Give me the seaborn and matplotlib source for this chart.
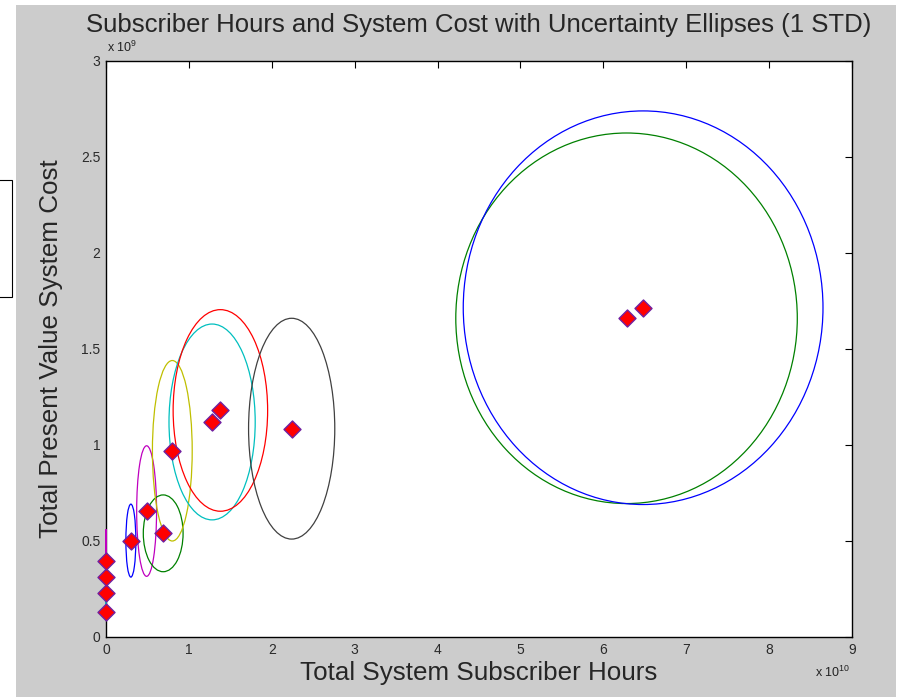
import matplotlib
matplotlib.use("Agg")
import matplotlib.pyplot as plt
from matplotlib.patches import Ellipse, Rectangle
import seaborn as sns
import pandas as pd

# ---- data (x in units of 1e10 hours, y in units of 1e9 cost) ----
hours = [0.0, 0.0, 0.0, 0.0, 0.30, 0.49, 0.69, 0.80, 1.28, 1.38, 2.24, 6.28, 6.48]
cost = [0.132, 0.228, 0.314, 0.396, 0.502, 0.656, 0.540, 0.970, 1.120, 1.180, 1.085, 1.660, 1.715]
hours_std = [0.0, 0.0, 0.0, 0.0, 0.06, 0.12, 0.24, 0.24, 0.52, 0.57, 0.52, 2.06, 2.17]
cost_std = [0.03, 0.10, 0.12, 0.165, 0.19, 0.34, 0.20, 0.47, 0.51, 0.525, 0.575, 0.965, 1.025]
ell_colors = ["#bfbf00", "#00bfbf", "#4040c0", "#bf00bf", "#0000ff", "#bf00bf", "#008000",
              "#bfbf00", "#00bfbf", "#ff0000", "#404040", "#008000", "#0000ff"]
xticks = [0, 1, 2, 3, 4, 5, 6, 7, 8, 9]
yticks = [0, 0.5, 1, 1.5, 2, 2.5, 3]
ytick_labels = ["0", "0.5", "1", "1.5", "2", "2.5", "3"]

df = pd.DataFrame({"hours": hours, "cost": cost})

sns.set_style("white")
plt.rcParams["font.family"] = ["Liberation Sans", "DejaVu Sans"]
plt.rcParams["mathtext.fontset"] = "custom"
plt.rcParams["mathtext.rm"] = "Liberation Sans"

W, H = 899, 697
fig = plt.figure(figsize=(W / 100, H / 100), dpi=100, facecolor="white")
# gray figure area (cropped screenshot look)
fig.patches.append(Rectangle((16 / W, 0), (896 - 16) / W, (H - 5) / H,
                             transform=fig.transFigure, facecolor="#cccccc",
                             edgecolor="none", zorder=-10))
# partial box at left edge
fig.patches.append(Rectangle((-2 / W, (H - 297) / H), 14 / W, 117 / H,
                             transform=fig.transFigure, facecolor="white",
                             edgecolor="black", linewidth=0.8, zorder=-5))

ax = fig.add_axes([106 / W, (H - 637) / H, (852 - 106) / W, (637 - 61) / H])
ax.set_facecolor("white")

for x, y, sx, sy, c in zip(hours, cost, hours_std, cost_std, ell_colors):
    ax.add_patch(Ellipse((x, y), 2 * sx, 2 * sy, fill=False, edgecolor=c,
                         linewidth=0.9, zorder=4, clip_on=False))

sns.scatterplot(data=df, x="hours", y="cost", marker="D", s=75, color="#ff0000",
                edgecolor="#7020a0", linewidth=1.0, ax=ax, zorder=5, legend=False,
                clip_on=False)

ax.set_xlim(0, 9)
ax.set_ylim(0, 3)
ax.set_xticks(xticks)
ax.set_yticks(yticks)
ax.set_xticklabels([str(t) for t in xticks])
ax.set_yticklabels(ytick_labels)
ax.tick_params(direction="in", length=5, width=0.8, top=True, right=True,
               labelsize=10, labelcolor="#2a2a2a", colors="black", pad=4)
for s in ax.spines.values():
    s.set_visible(True)
    s.set_color("black")
    s.set_linewidth(1.0)
    s.set_zorder(3)

ax.set_xlabel("Total System Subscriber Hours", fontsize=18.7, labelpad=3)
ax.set_ylabel("Total Present Value System Cost", fontsize=18.7, labelpad=13)
ax.set_title("Subscriber Hours and System Cost with Uncertainty Ellipses (1 STD)",
             fontsize=18.5, pad=21)

fig.text(107 / W, 1 - 47 / H, r"x 10$^{9}$", fontsize=9, ha="left", va="center", color="#222222")
fig.text(850 / W, 1 - 672 / H, r"x 10$^{10}$", fontsize=9, ha="right", va="center", color="#222222")

fig.savefig("out.png", dpi=100, facecolor=fig.get_facecolor())
